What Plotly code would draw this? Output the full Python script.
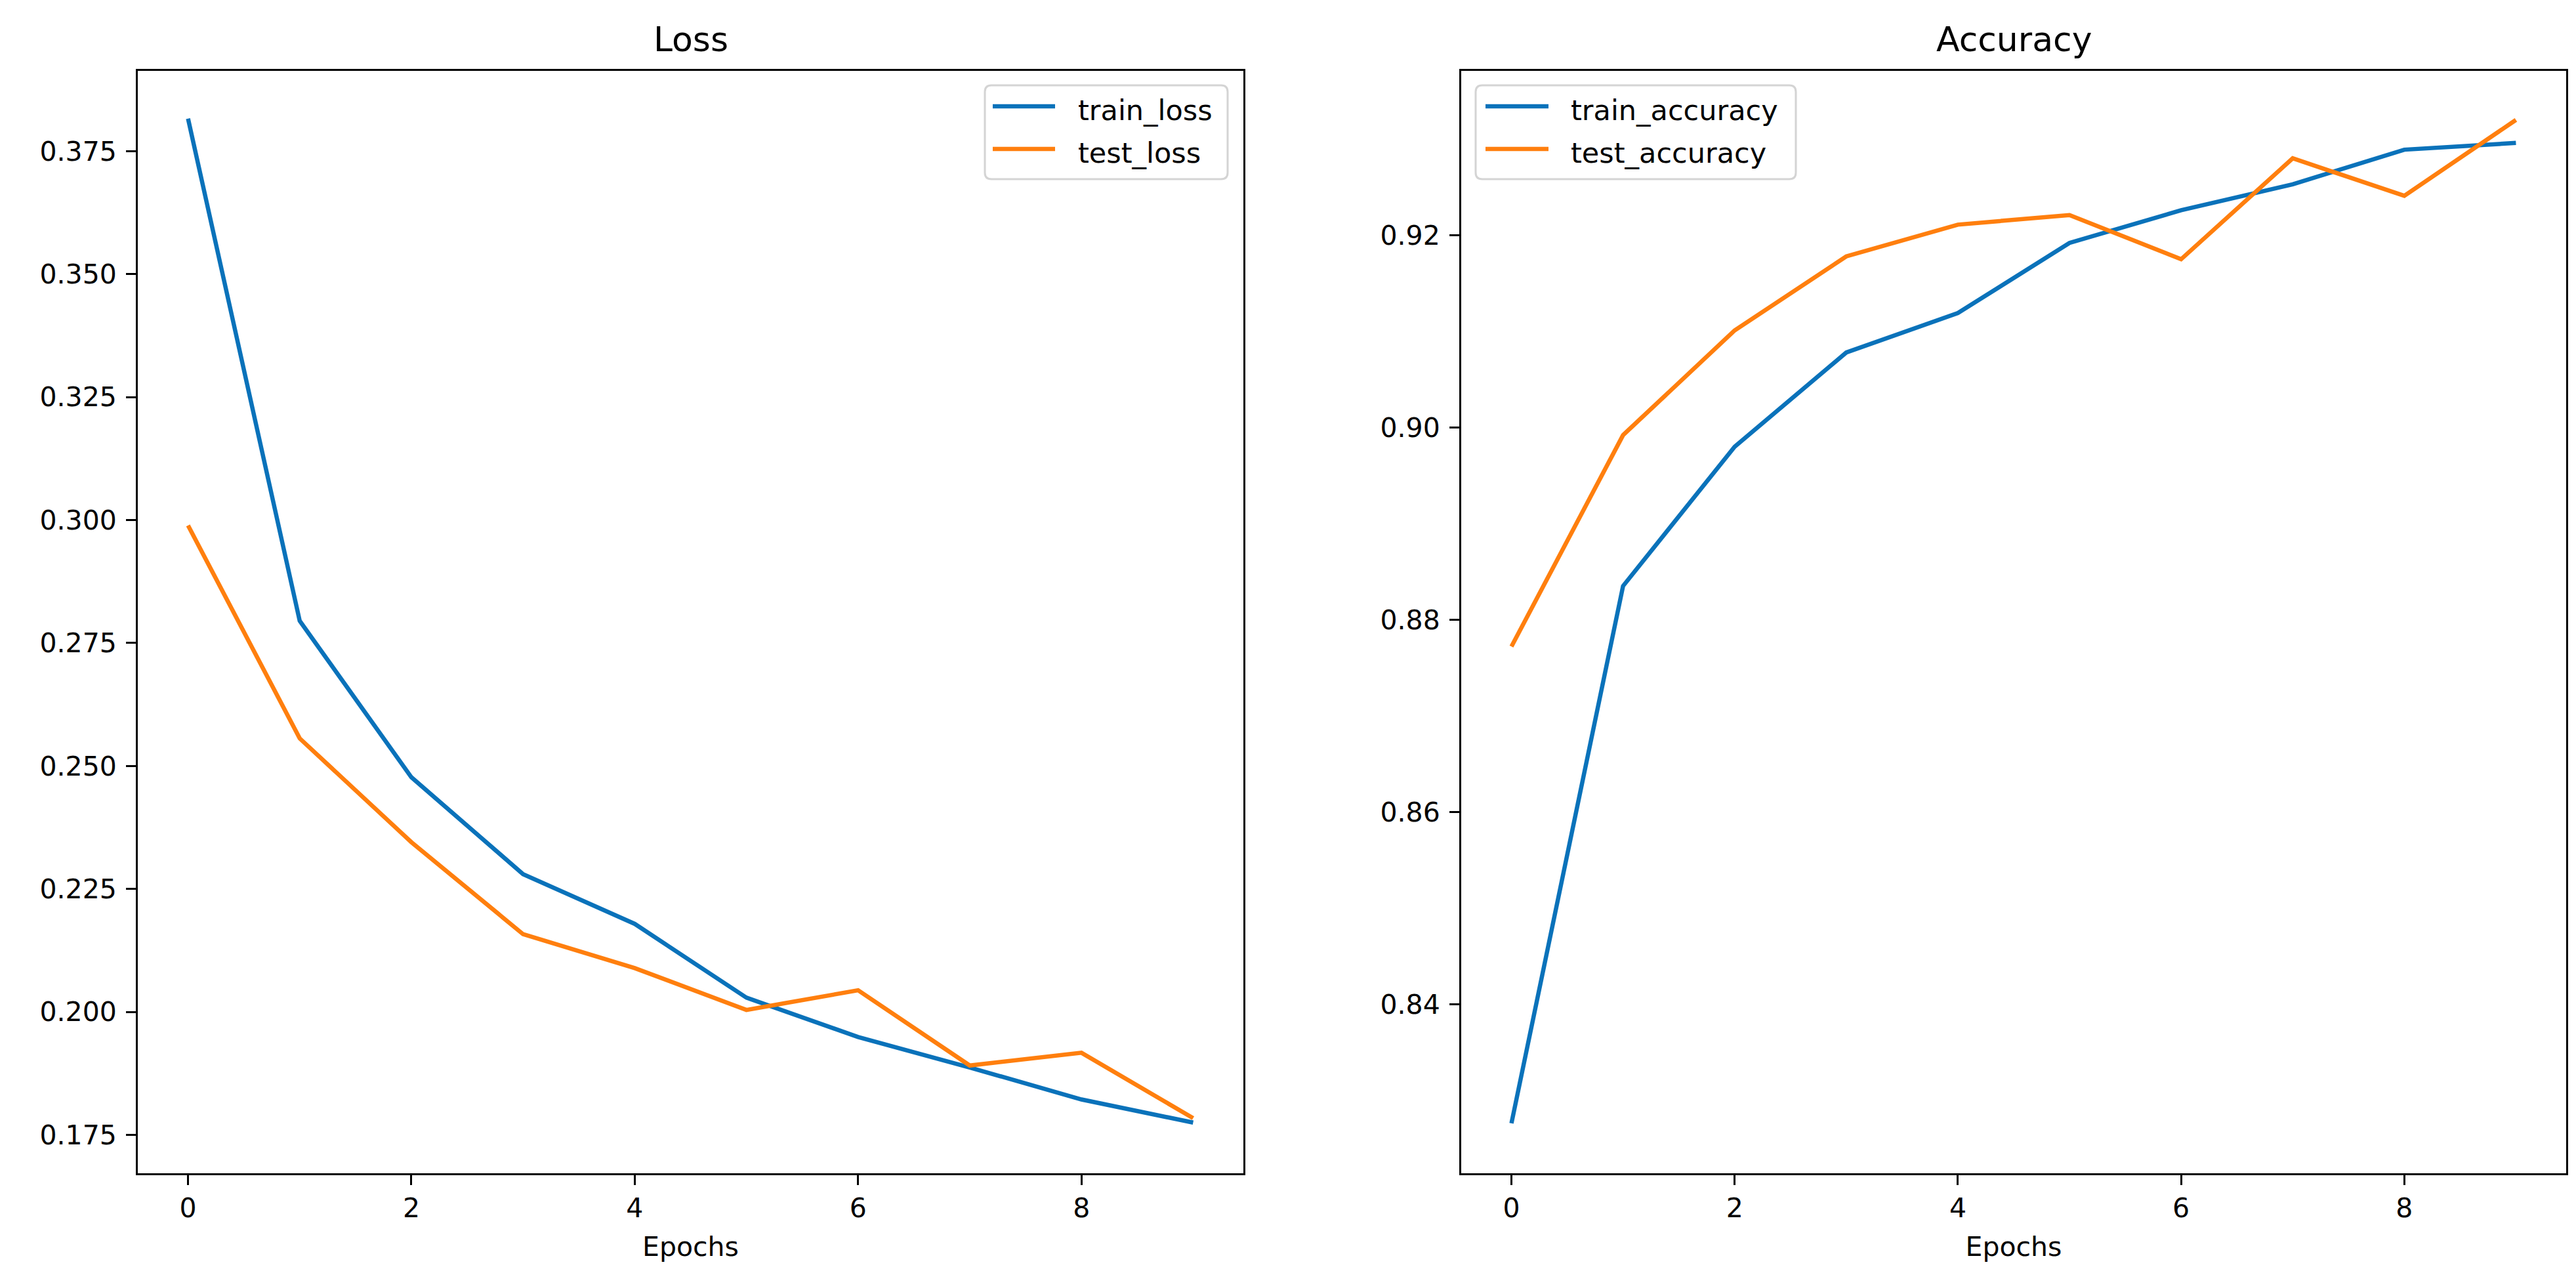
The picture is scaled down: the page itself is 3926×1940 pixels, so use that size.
import plotly.graph_objects as go

epochs = list(range(10))
train_loss = [0.3816, 0.2795, 0.2477, 0.2280, 0.2179, 0.2029, 0.1949, 0.1887, 0.1822, 0.1775]
test_loss = [0.2989, 0.2556, 0.2345, 0.2158, 0.2089, 0.2004, 0.2044, 0.1891, 0.1917, 0.1784]
train_accuracy = [0.8276, 0.8835, 0.8980, 0.9078, 0.9119, 0.9192, 0.9226, 0.9253, 0.9289, 0.9296]
test_accuracy = [0.8772, 0.8992, 0.9101, 0.9178, 0.9211, 0.9221, 0.9175, 0.9280, 0.9241, 0.9320]

x_ticks = [0, 2, 4, 6, 8]
loss_ticks = [0.175, 0.200, 0.225, 0.250, 0.275, 0.300, 0.325, 0.350, 0.375]
acc_ticks = [0.84, 0.86, 0.88, 0.90, 0.92]

W, H = 3926, 1940
BLUE = "#0a72ba"
ORANGE = "#ff7f0e"
FONT = "DejaVu Sans"
FS = 41
LEG_FS = 43
TITLE_FS = 52
LW = 6.5

series = [
    ("train_loss", epochs, train_loss, BLUE, "x", "y"),
    ("test_loss", epochs, test_loss, ORANGE, "x", "y"),
    ("train_accuracy", epochs, train_accuracy, BLUE, "x2", "y2"),
    ("test_accuracy", epochs, test_accuracy, ORANGE, "x2", "y2"),
]

fig = go.Figure()
for name, xs, ys, col, xa, ya in series:
    fig.add_trace(go.Scatter(x=xs, y=ys, mode="lines", name=name, showlegend=False,
                             line=dict(color=col, width=LW), xaxis=xa, yaxis=ya))


def px_x(v):
    return v / W


def px_y(v):
    return 1 - v / H


axis_common = dict(showline=True, linecolor="black", linewidth=3, mirror=True,
                   ticks="outside", ticklen=15, tickwidth=3, tickcolor="black",
                   showgrid=False, zeroline=False, automargin=False,
                   tickfont=dict(family=FONT, size=FS, color="black"))

L1, R1 = 202, 1887
L2, R2 = 2219, 3903
T, B = 100, 1780

shapes = []
annotations = []


def add_legend(box_l, box_r, handle_l, handle_r, text_l, entries):
    top, bot, r = 122, 265, 10
    x0, x1 = px_x(box_l), px_x(box_r)
    y0, y1 = px_y(bot), px_y(top)
    dx, dy = r / W, r / H
    path = (f"M{x0+dx},{y1} L{x1-dx},{y1} Q{x1},{y1} {x1},{y1-dy} "
            f"L{x1},{y0+dy} Q{x1},{y0} {x1-dx},{y0} L{x0+dx},{y0} "
            f"Q{x0},{y0} {x0},{y0+dy} L{x0},{y1-dy} Q{x0},{y1} {x0+dx},{y1} Z")
    shapes.append(dict(type="path", path=path, xref="paper", yref="paper",
                       fillcolor="rgba(255,255,255,0.8)",
                       line=dict(color="#d4d4d4", width=3), layer="above"))
    for (label, col), row_y in zip(entries, [154, 219]):
        shapes.append(dict(type="line", xref="paper", yref="paper",
                           x0=px_x(handle_l), x1=px_x(handle_r),
                           y0=px_y(row_y), y1=px_y(row_y),
                           line=dict(color=col, width=LW), layer="above"))
        annotations.append(dict(text=label, x=px_x(text_l), y=px_y(row_y + 6),
                                xref="paper", yref="paper", xanchor="left", yanchor="middle",
                                showarrow=False,
                                font=dict(family=FONT, size=LEG_FS, color="black")))


add_legend(1493, 1863, 1505, 1600, 1633, [(series[0][0], series[0][3]), (series[1][0], series[1][3])])
add_legend(2241, 2729, 2256, 2352, 2384, [(series[2][0], series[2][3]), (series[3][0], series[3][3])])

for text, l, r in [("Loss", L1, R1), ("Accuracy", L2, R2)]:
    annotations.append(dict(text=text, x=(px_x(l) + px_x(r)) / 2, y=px_y(52),
                            xref="paper", yref="paper", xanchor="center", yanchor="middle",
                            showarrow=False, font=dict(family=FONT, size=TITLE_FS, color="black")))

fig.update_layout(
    width=W, height=H,
    margin=dict(l=0, r=0, t=0, b=0),
    paper_bgcolor="white", plot_bgcolor="white",
    font=dict(family=FONT, size=FS, color="black"),
    showlegend=False,
    xaxis=dict(domain=[px_x(L1), px_x(R1)], range=[-0.45, 9.45], tickvals=x_ticks,
               anchor="y", title=dict(text="Epochs", standoff=22, font=dict(family=FONT, size=FS)),
               **axis_common),
    yaxis=dict(domain=[px_y(B), px_y(T)], range=[0.1672, 0.3913], tickvals=loss_ticks,
               tickformat=".3f", anchor="x", ticklabelstandoff=6, **axis_common),
    xaxis2=dict(domain=[px_x(L2), px_x(R2)], range=[-0.45, 9.45], tickvals=x_ticks,
                anchor="y2", title=dict(text="Epochs", standoff=22, font=dict(family=FONT, size=FS)),
                **axis_common),
    yaxis2=dict(domain=[px_y(B), px_y(T)], range=[0.8224, 0.9371], tickvals=acc_ticks,
                tickformat=".2f", anchor="x2", ticklabelstandoff=6, **axis_common),
    shapes=shapes,
    annotations=annotations,
)

fig.write_html("out.html")
